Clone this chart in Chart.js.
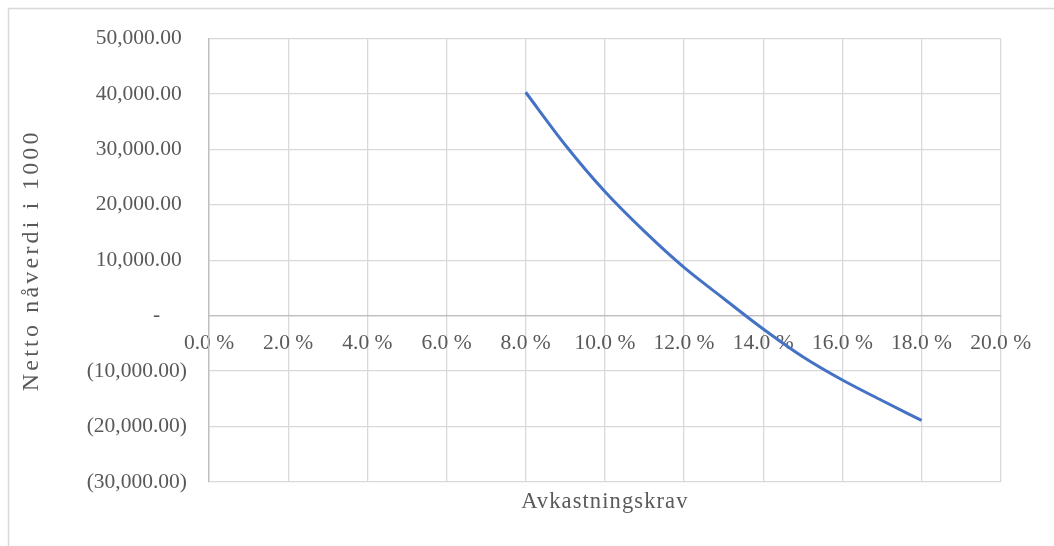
<!DOCTYPE html>
<html>
<head>
<meta charset="utf-8">
<script src="https://cdn.jsdelivr.net/npm/chart.js@4.4.1/dist/chart.umd.min.js"></script>
<style>
  html, body { margin: 0; padding: 0; background: #ffffff; }
  #wrap { width: 1054px; height: 546px; position: relative; }
</style>
</head>
<body>
<div id="wrap"><canvas id="c" width="1054" height="546"></canvas></div>
<script>
// Required rate of return (%) and net present value (in 1000)
const rates = [8, 9, 10, 11, 12, 13, 14, 15, 16, 17, 18];
const npv = [40300, 30800, 22400, 15200, 8700, 3100, -2400, -7400, -11600, -15300, -18900];

// Axis settings
const xMin = 0, xMax = 20, xStep = 2;
const yMin = -30000, yMax = 50000, yStep = 10000;

const xTitle = 'Avkastningskrav';
const yTitle = 'Netto nåverdi i 1000';

const FONT = '"Liberation Serif", "Times New Roman", serif';
const TEXT = '#595959';
const GRID = '#d9d9d9';
const AXIS = '#bfbfbf';

function fmtAmount(v) {
  if (v === 0) return '-\u2007\u2007 ';
  const s = Math.abs(v).toLocaleString('en-US', { minimumFractionDigits: 2, maximumFractionDigits: 2 });
  return v < 0 ? '(' + s + ')' : s + ' ';
}

// Draws an axis title with extra spacing between letters
function spaceTitle(scale, px) {
  if (scale._spacedTitle) return;
  const orig = scale.drawTitle.bind(scale);
  scale.drawTitle = function () {
    const ctx = this.ctx;
    const prev = ctx.letterSpacing;
    ctx.letterSpacing = px + 'px';
    orig();
    ctx.letterSpacing = prev || '0px';
  };
  scale._spacedTitle = true;
}

// Outer frame of the chart
const frame = {
  id: 'frame',
  beforeDraw(chart) {
    const ctx = chart.ctx;
    ctx.save();
    ctx.fillStyle = '#ffffff';
    ctx.fillRect(0, 0, chart.width, chart.height);
    ctx.strokeStyle = GRID;
    ctx.lineWidth = 1.5;
    ctx.strokeRect(8.5, 8.5, 3000, 3000);
    ctx.restore();
  }
};

new Chart(document.getElementById('c'), {
  type: 'line',
  data: {
    datasets: [{
      data: rates.map((r, i) => ({ x: r, y: npv[i] })),
      borderColor: '#4472C4',
      borderWidth: 3,
      pointRadius: 0,
      fill: false,
      cubicInterpolationMode: 'monotone',
      xAxisID: 'x',
      yAxisID: 'y'
    }]
  },
  options: {
    responsive: false,
    animation: false,
    devicePixelRatio: 1,
    layout: { padding: { top: 38.5, right: 53.3, bottom: 0, left: 0 } },
    plugins: { legend: { display: false }, tooltip: { enabled: false } },
    scales: {
      x: {
        type: 'linear',
        position: { y: 0 },
        min: xMin, max: xMax,
        grid: {
          color: c => (c.tick && c.tick.value === 0 ? AXIS : GRID),
          lineWidth: 1.3,
          drawTicks: false
        },
        border: { display: true, color: AXIS, width: 1.3 },
        ticks: {
          stepSize: xStep,
          autoSkip: false,
          maxRotation: 0,
          padding: 15,
          color: TEXT,
          font: { family: FONT, size: 21.5 },
          callback: v => v.toFixed(1) + ' %'
        }
      },
      x2: {
        type: 'linear',
        position: 'bottom',
        min: 0, max: 1,
        grid: { display: false },
        border: { display: false },
        ticks: { display: false },
        title: {
          display: true,
          text: xTitle,
          color: TEXT,
          font: { family: FONT, size: 22.5 },
          padding: { top: 0, bottom: 30 }
        },
        afterFit: s => { s.height = 64; spaceTitle(s, 1.1); }
      },
      y: {
        type: 'linear',
        position: 'left',
        min: yMin, max: yMax,
        grid: {
          color: c => (c.tick && c.tick.value === 0 ? AXIS : GRID),
          lineWidth: 1.3,
          drawTicks: false
        },
        border: { display: true, color: AXIS, width: 1.3 },
        ticks: {
          stepSize: yStep,
          padding: 22,
          color: TEXT,
          font: { family: FONT, size: 21.5 },
          callback: v => fmtAmount(v)
        },
        title: {
          display: true,
          text: yTitle,
          color: TEXT,
          font: { family: FONT, size: 24 },
          padding: { top: 17.5, bottom: 0 }
        },
        afterFit: s => { s.width = 209; spaceTitle(s, 3.2); }
      }
    }
  },
  plugins: [frame]
});
</script>
</body>
</html>
